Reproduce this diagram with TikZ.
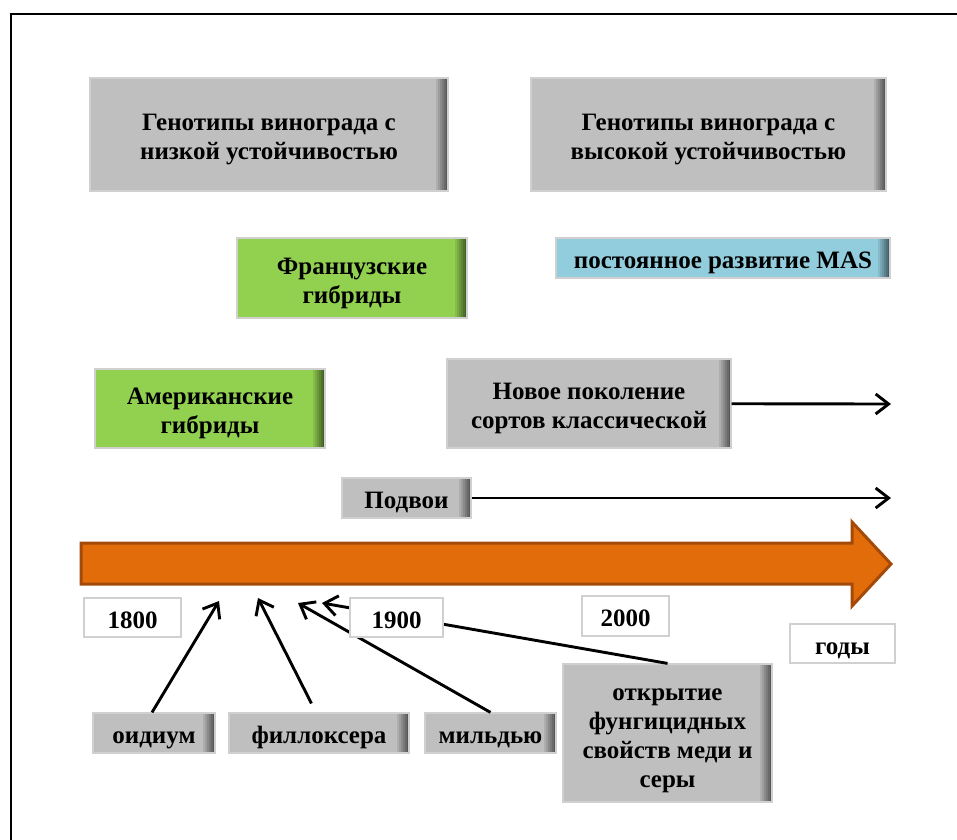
\documentclass[tikz,border=0pt]{standalone}
\usepackage{fontspec}
\setmainfont{Liberation Serif}
\usetikzlibrary{arrows.meta}

\definecolor{boxgray}{RGB}{191,191,191}
\definecolor{edgegray}{RGB}{208,208,208}
\definecolor{hybgreen}{RGB}{146,208,80}
\definecolor{masblue}{RGB}{146,205,221}
\definecolor{timeorange}{RGB}{227,108,10}
\definecolor{timebrown}{RGB}{163,74,8}

% invisible strut: sets the text a little lower in its box
\newcommand{\lowstrut}{\rule[-6pt]{0pt}{33pt}}

\tikzset{
  tag/.style={draw=edgegray, line width=1.2pt, align=center, inner sep=0pt,
    font=\bfseries\fontsize{25}{29}\selectfont},
  sideshade/.style={path picture={
    \foreach \k [evaluate=\k as \p using int(100-9*\k),
                 evaluate=\k as \w using 2*(7-\k)] in {1,...,6}
      \fill[#1!\p!black] ([xshift=-\w pt]path picture bounding box.north east)
        rectangle (path picture bounding box.south east);}},
  greybox/.style={tag, fill=boxgray, sideshade=boxgray},
  greenbox/.style={tag, fill=hybgreen, sideshade=hybgreen},
  bluebox/.style={tag, fill=masblue, sideshade=masblue},
  yearbox/.style={tag, fill=white},
  pointer/.style={line width=2.9pt, -{Straight Barb[length=13pt,width=20pt,line width=2.9pt]}}
}

\begin{document}
\begin{tikzpicture}[x=1pt, y=-1pt]
  \useasboundingbox (0,0) rectangle (957,839);
  % frame
  \draw[line width=2.5pt] (11,860) -- (11,14) -- (975,14);

  % genotypes
  \node[greybox, minimum width=358pt, minimum height=113pt] (low) at (269,134.5) {\lowstrut Генотипы винограда с\\низкой устойчивостью};
  \node[greybox, minimum width=355pt, minimum height=113pt] (high) at (708.5,134.5) {\lowstrut Генотипы винограда с\\высокой устойчивостью};

  % hybrids and new varieties
  \node[greenbox, minimum width=230pt, minimum height=80pt] (french) at (352,278) {\lowstrut Французские\\гибриды};
  \node[bluebox, minimum width=334pt, minimum height=40pt] (mas) at (723,258) {\lowstrut постоянное развитие MAS};
  \node[greenbox, minimum width=230pt, minimum height=79pt] (amer) at (210,408.5) {\lowstrut Американские\\гибриды};
  \node[greybox, minimum width=284pt, minimum height=89pt] (novoe) at (589,403.5) {\lowstrut Новое поколение\\сортов классической};
  \node[greybox, minimum width=129pt, minimum height=40pt] (podvoi) at (406.5,498) {\lowstrut Подвои};

  \coordinate (novoeEnd) at (891,404);
  \coordinate (podvoiEnd) at (891,498);
  \draw[pointer] (novoe) -- (novoeEnd);
  \draw[pointer] (podvoi) -- (podvoiEnd);

  % time axis
  \draw[fill=timeorange, draw=timebrown, line width=3pt, line join=miter]
    (81,543) -- (852,543) -- (852,522) -- (891,564) -- (852,606) -- (852,584) -- (81,584) -- cycle;

  % events
  \node[greybox, minimum width=122pt, minimum height=40pt] (oid) at (154,733) {\lowstrut оидиум};
  \node[greybox, minimum width=180pt, minimum height=40pt] (fil) at (319,733) {\lowstrut филлоксера};
  \node[greybox, minimum width=131pt, minimum height=40pt] (mil) at (490.5,733) {\lowstrut мильдью};
  \node[greybox, minimum width=209pt, minimum height=138pt] (otkr) at (667.5,733) {\lowstrut открытие\\фунгицидных\\свойств меди и\\серы};

  \coordinate (oidEnd) at (219,601);
  \coordinate (filEnd) at (258,598);
  \coordinate (milEnd) at (298,603);
  \coordinate (otkrEnd) at (322,603);
  \draw[pointer] ([xshift=-2pt]oid.north) -- (oidEnd);
  \draw[pointer, shorten <=10pt] ([xshift=-3pt]fil.north) -- (filEnd);
  \draw[pointer] (mil.north) -- (milEnd);
  \draw[pointer] (otkr.north) -- (otkrEnd);

  % years
  \node[yearbox, minimum width=97pt, minimum height=39pt] (y1800) at (132.5,617.5) {\lowstrut 1800};
  \node[yearbox, minimum width=93pt, minimum height=39pt] (y1900) at (396.5,617.5) {\lowstrut 1900};
  \node[yearbox, minimum width=87pt, minimum height=40pt] (y2000) at (625.5,616) {\lowstrut 2000};
  \node[yearbox, minimum width=105pt, minimum height=39pt] (gody) at (842.5,643.5) {\lowstrut годы};
\end{tikzpicture}
\end{document}
